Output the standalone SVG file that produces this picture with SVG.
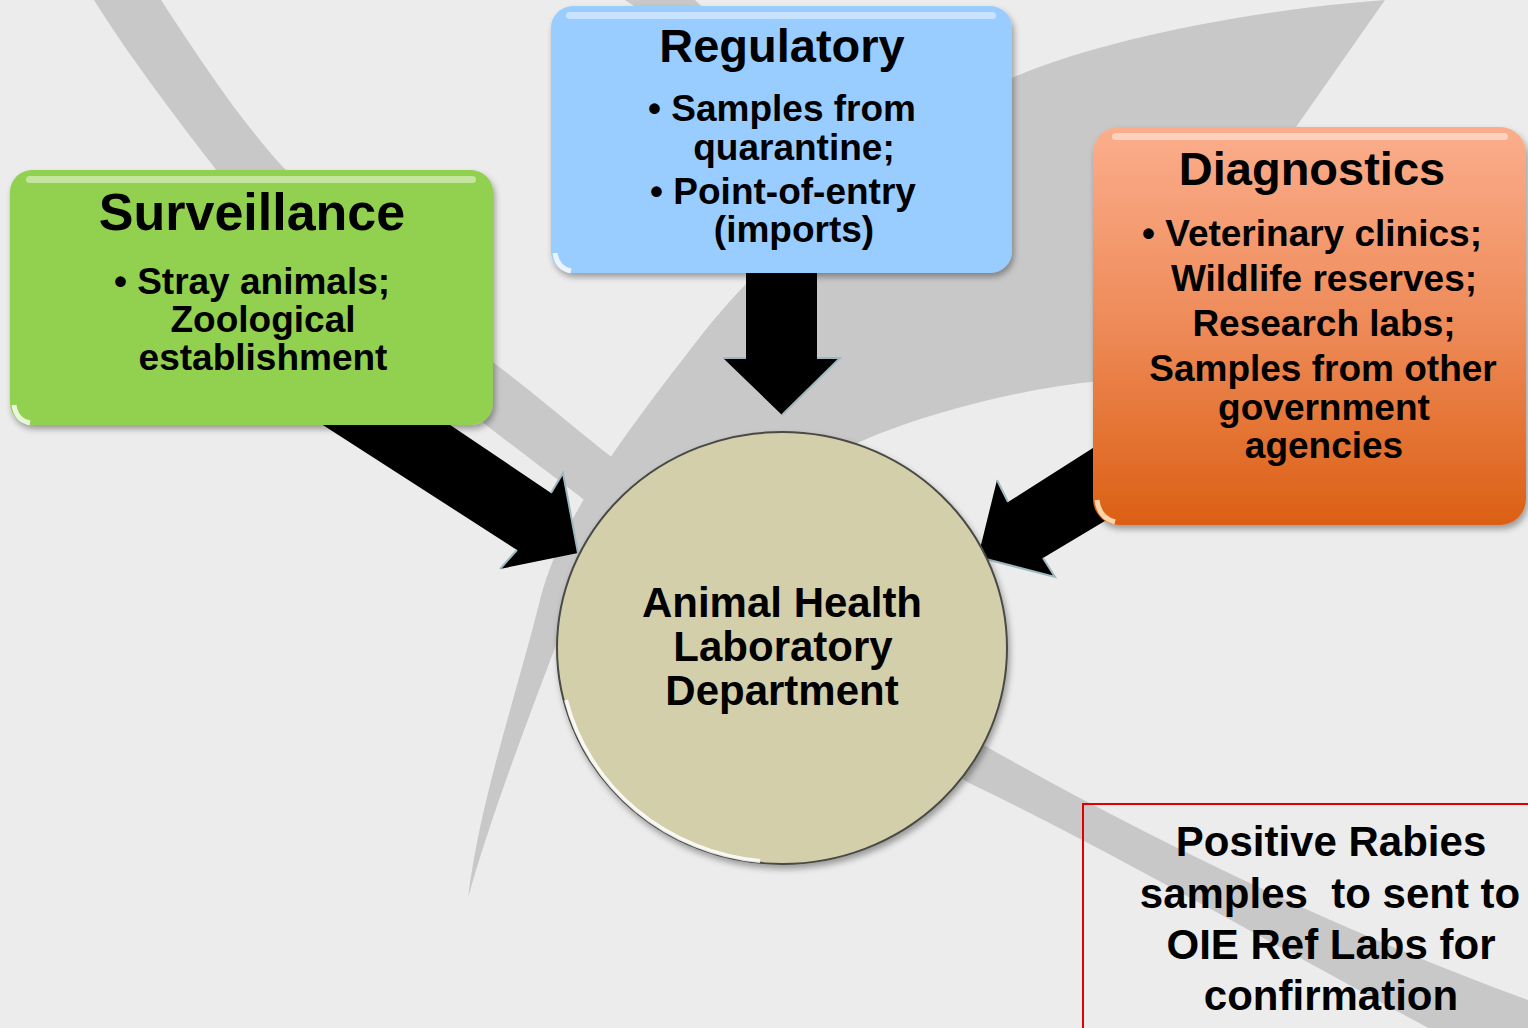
<svg xmlns="http://www.w3.org/2000/svg" width="1528" height="1028" viewBox="0 0 1528 1028">
<defs>
<style>
.t{font-family:"Liberation Sans",Arial,sans-serif;font-weight:bold;fill:#000;text-anchor:middle}
.h{font-size:47px}
.b{font-size:37px}
.c{font-size:42px}
.sw{fill:#c8c8c8}
.arrow{fill:#000}
.edge{fill:none;stroke:#9fb8c0;stroke-width:2}
.hl{fill:#fff;opacity:0.45}
</style>
<linearGradient id="og" x1="0" y1="0" x2="0" y2="1">
<stop offset="0" stop-color="#fbae8c"/>
<stop offset="0.5" stop-color="#ee8a58"/>
<stop offset="1" stop-color="#db6014"/>
</linearGradient>
<filter id="sh" x="-10%" y="-10%" width="120%" height="125%">
<feDropShadow dx="2" dy="4" stdDeviation="3" flood-color="#000" flood-opacity="0.35"/>
</filter>
</defs>
<rect x="0" y="0" width="1528" height="1028" fill="#ececec"/>
<g id="background">
<path class="sw" d="M1385,0 C1250,10 1100,40 1014,77 C880,150 760,260 700,337 C620,440 560,520 540,600 C515,700 480,800 468,898 C490,820 520,740 558,640 L840,452 C880,428 1000,390 1100,381 L1250,250 L1296,127 Z"/>
<path class="sw" d="M161,0 C200,60 240,120 283,167 C350,240 420,310 494,363 C530,390 565,420 600,448 L980,743 C1150,840 1350,935 1528,1000 L1528,1080 C1350,990 1150,870 967,782 L600,512 C480,420 300,290 214,167 C170,110 125,50 94,0 Z"/>
<path class="sw" d="M625,0 L695,0 L705,10 L640,10 Z"/>
</g>
<g id="connectors">
<polygon class="arrow" points="284,400 413,400 551,493 563,473 578,553 500,569 517,550"/>
<polyline class="edge" points="551,493 563,473 578,553"/>
<polyline class="edge" points="500,569 517,550"/>
<polygon class="arrow" points="746,260 817,260 817,358 840,358 782,415 723,358 746,358"/>
<polyline class="edge" points="723,358 746,358"/>
<polyline class="edge" points="817,358 840,358 782,415"/>
<polygon class="arrow" points="978,557 997,480 1008,502 1140,418 1140,500 1043,558 1055,577"/>
<polyline class="edge" points="997,480 1008,502"/>
<polyline class="edge" points="978,557 1055,577 1043,558"/>
</g>
<g id="surveillance">
<rect x="10" y="170" width="483" height="255" rx="22" fill="#92d050" filter="url(#sh)"/>
<rect class="hl" x="26" y="176" width="450" height="7" rx="3.5"/>
<path d="M14,405 Q16,420 30,423" fill="none" stroke="#fff" stroke-width="5" opacity="0.8"/>
<text class="t" x="252" y="230" font-size="52">Surveillance</text>
<text class="t b" x="252" y="294">• Stray animals;</text>
<text class="t b" x="263" y="332">Zoological</text>
<text class="t b" x="263" y="370">establishment</text>
</g>
<g id="regulatory">
<rect x="551" y="6" width="461" height="267" rx="22" fill="#99ccff" filter="url(#sh)"/>
<rect class="hl" x="566" y="12" width="430" height="7" rx="3.5"/>
<path d="M555,253 Q557,268 571,271" fill="none" stroke="#fff" stroke-width="5" opacity="0.8"/>
<text class="t h" x="782" y="62">Regulatory</text>
<text class="t b" x="782" y="121">• Samples from</text>
<text class="t b" x="794" y="160">quarantine;</text>
<text class="t b" x="783" y="204">• Point-of-entry</text>
<text class="t b" x="794" y="242">(imports)</text>
</g>
<g id="diagnostics">
<rect x="1093" y="127" width="433" height="398" rx="26" fill="url(#og)" filter="url(#sh)"/>
<rect class="hl" x="1112" y="133" width="396" height="7" rx="3.5"/>
<path d="M1097,500 Q1099,518 1115,522" fill="none" stroke="#fff3d0" stroke-width="5" opacity="0.8"/>
<text class="t h" x="1312" y="185">Diagnostics</text>
<text class="t b" x="1312" y="246">• Veterinary clinics;</text>
<text class="t b" x="1324" y="291">Wildlife reserves;</text>
<text class="t b" x="1324" y="336">Research labs;</text>
<text class="t b" x="1323" y="381">Samples from other</text>
<text class="t b" x="1324" y="420">government</text>
<text class="t b" x="1324" y="458">agencies</text>
</g>
<g id="lab">
<ellipse cx="782" cy="648" rx="225" ry="216" fill="#d3cfab" stroke="#4a4a44" stroke-width="2" filter="url(#sh)"/>
<path d="M566,700 A222,213 0 0 0 760,861" fill="none" stroke="#fff" stroke-width="4" opacity="0.85"/>
<text class="t c" x="782" y="617">Animal Health</text>
<text class="t c" x="783" y="661">Laboratory</text>
<text class="t c" x="782" y="705">Department</text>
</g>
<g id="note">
<rect x="1083" y="804" width="450" height="230" fill="none" stroke="#e00000" stroke-width="2"/>
<text class="t c" x="1331" y="856">Positive Rabies</text>
<text class="t c" x="1330" y="908" style="white-space:pre">samples  to sent to</text>
<text class="t c" x="1331" y="959">OIE Ref Labs for</text>
<text class="t c" x="1331" y="1010">confirmation</text>
</g>
</svg>
